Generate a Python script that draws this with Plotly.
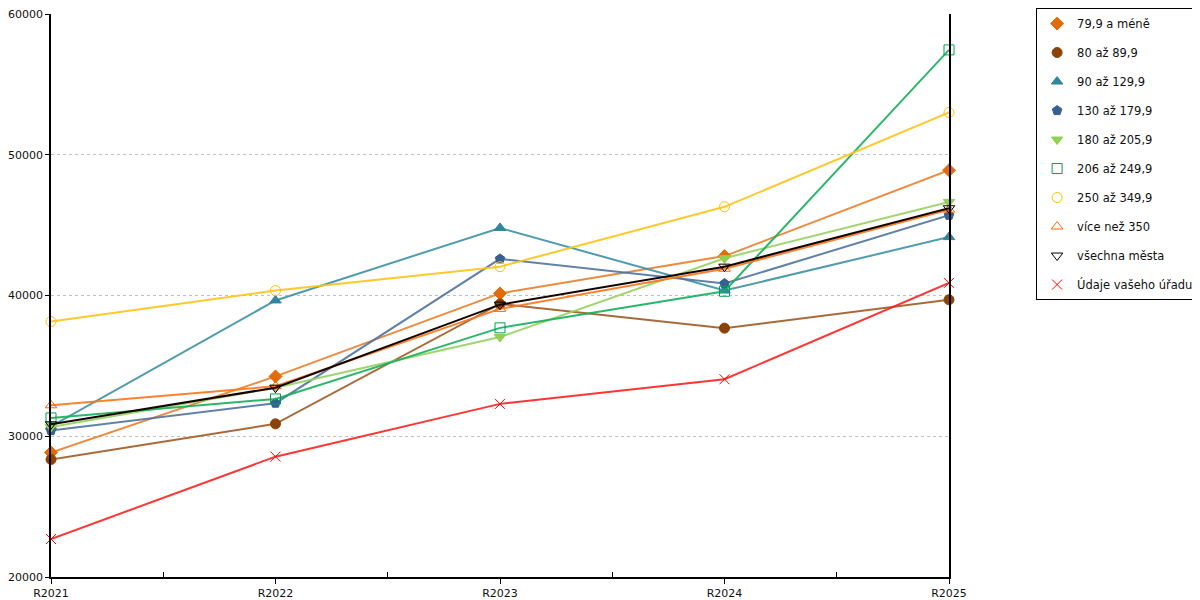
import plotly.graph_objects as go

# Data
roky = ['R2021', 'R2022', 'R2023', 'R2024', 'R2025']

skupiny = ['79,9 a méně', '80 až 89,9', '90 až 129,9', '130 až 179,9', '180 až 205,9',
           '206 až 249,9', '250 až 349,9', 'více než 350', 'všechna města', 'Údaje vašeho úřadu']

s_79 = [28850, 34250, 40150, 42800, 48900]
s_80 = [28350, 30880, 39400, 37680, 39700]
s_90 = [30700, 39650, 44800, 40350, 44150]
s_130 = [30400, 32350, 42600, 40850, 45700]
s_180 = [30650, 33450, 37050, 42650, 46650]
s_206 = [31300, 32650, 37700, 40300, 57450]
s_250 = [38150, 40350, 42050, 46300, 53000]
s_350 = [32200, 33550, 39050, 41900, 46100]
s_vse = [30850, 33450, 39350, 42050, 46200]
s_urad = [22700, 28550, 32300, 34050, 40900]

hodnoty = [s_79, s_80, s_90, s_130, s_180, s_206, s_250, s_350, s_vse, s_urad]

# Styly: (symbol, barva znacky, barva cary)
styly = [
    ('diamond', '#E36C0A', 'rgba(236,125,40,0.9)'),
    ('circle', '#8B4206', 'rgba(160,90,35,0.9)'),
    ('triangle-up', '#31859C', 'rgba(60,145,165,0.9)'),
    ('pentagon', '#366092', 'rgba(80,115,160,0.9)'),
    ('triangle-down', '#92D050', 'rgba(150,210,95,0.9)'),
    ('square-open', '#00A050', 'rgba(20,175,90,0.9)'),
    ('circle-open', '#FFC000', 'rgba(255,195,20,0.9)'),
    ('triangle-up-open', '#FF6600', 'rgba(255,115,25,0.9)'),
    ('triangle-down-open', '#000000', 'rgba(20,5,0,1)'),
    ('x-thin-open', '#FF0000', 'rgba(255,30,30,0.9)'),
]

x = list(range(len(roky)))

fig = go.Figure()
for i, (nazev, y) in enumerate(zip(skupiny, hodnoty)):
    sym, mcol, lcol = styly[i]
    fig.add_trace(go.Scatter(
        x=x, y=y, mode='lines+markers', name=nazev,
        line=dict(color=lcol, width=2),
        marker=dict(symbol=sym, size=10, color=mcol,
                    line=dict(color=mcol, width=1)),
        cliponaxis=False, showlegend=False,
    ))
    # polozka legendy jen se znackou
    fig.add_trace(go.Scatter(
        x=[None], y=[None], mode='markers', name=nazev,
        marker=dict(symbol=sym, size=10, color=mcol,
                    line=dict(color=mcol, width=1)),
        legendgroup=nazev,
    ))

# stranka ma okraj 8 px, proto jsou okraje posunute
fig.update_layout(
    width=1200, height=600,
    margin=dict(l=43, r=259, t=6, b=31, autoexpand=False),
    plot_bgcolor='white', paper_bgcolor='white',
    font=dict(family='DejaVu Sans', size=11, color='#111'),
    legend=dict(x=1.097, y=1.0106, xanchor='left', yanchor='top',
                bordercolor='black', borderwidth=1,
                font=dict(size=11.5, color='#111'),
                traceorder='grouped', tracegroupgap=10,
                itemwidth=30),
)
fig.update_xaxes(
    range=[0, 4], tickvals=x, ticktext=roky,
    showgrid=False, zeroline=False,
    showline=True, linecolor='black', linewidth=1.5,
    ticks='outside', ticklen=5, tickcolor='black',
    minor=dict(tickvals=[0.5, 1.5, 2.5, 3.5], ticks='inside', ticklen=5, tickcolor='black'),
)
fig.update_yaxes(
    range=[20000, 60000], dtick=10000, tickformat='d',
    showgrid=True, gridcolor='#c0c0c0', griddash='dot', gridwidth=1,
    zeroline=False, showline=True, mirror=True, linecolor='black', linewidth=1.5,
    ticks='outside', ticklen=4, tickcolor='black',
    ticklabeloverflow='allow',
)

fig.write_html('out.html')
